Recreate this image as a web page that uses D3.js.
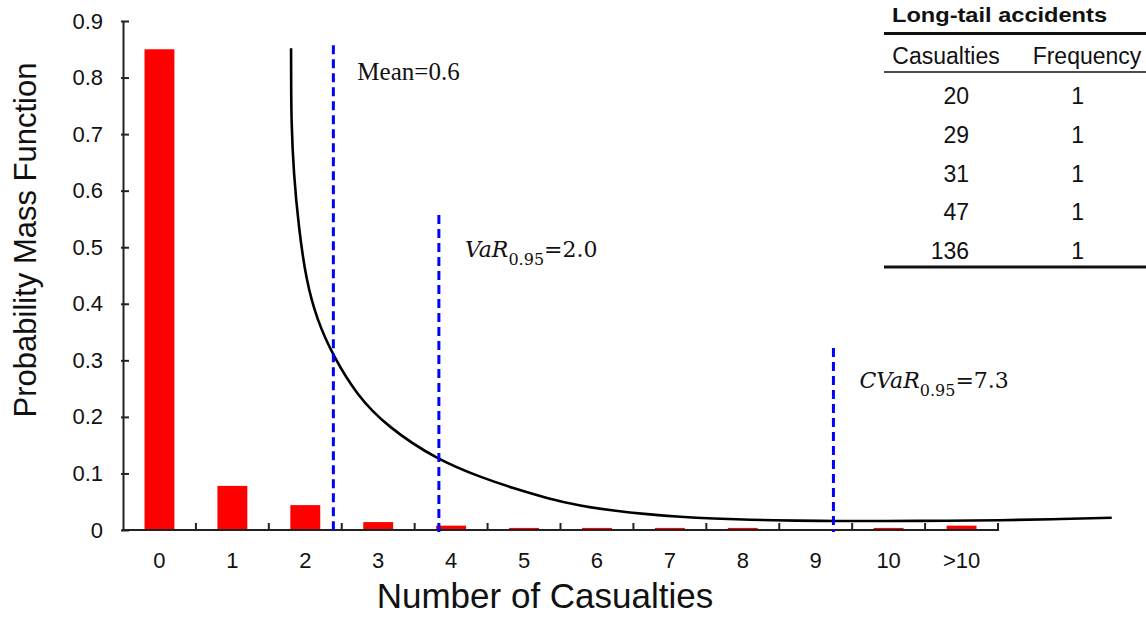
<!DOCTYPE html>
<html>
<head>
<meta charset="utf-8">
<script src="https://cdn.jsdelivr.net/npm/d3@7"></script>
<style>
  body { margin: 0; background: #fff; }
  svg { display: block; }
</style>
</head>
<body>
<script>
// categorie e valori delle barre
const categories = ["0", "1", "2", "3", "4", "5", "6", "7", "8", "9", "10", ">10"];
const pmf = [0.850, 0.078, 0.044, 0.014, 0.0077, 0.0037, 0.0037, 0.0037, 0.0037, 0, 0.0037, 0.0077];

// curva (posizione continua sull'asse x, in unita di categoria)
const curveX = [2.305, 2.306, 2.308, 2.340, 2.409, 2.510, 2.661, 2.889, 3.210, 3.621, 4.307, 4.946, 5.358, 5.816, 6.273, 6.730, 7.188, 7.645, 8.101, 8.560, 9.291, 9.744, 10.39, 11.35, 12.03, 12.72, 13.56, 13.56];
const curveY = [0.852, 0.800, 0.725, 0.631, 0.536, 0.442, 0.371, 0.306, 0.238, 0.183, 0.124, 0.0914, 0.0737, 0.0560, 0.0424, 0.0341, 0.0278, 0.0230, 0.0200, 0.0182, 0.0164, 0.0159, 0.0159, 0.0164, 0.0171, 0.0189, 0.0217, 0.0217];

// linee tratteggiate: posizione x, altezza, etichetta
const markerNames = ["Mean", "VaR", "CVaR"];
const markerX = [2.885, 4.332, 9.743];
const markerTop = [0.857, 0.557, 0.322];
const markerValues = ["0.6", "2.0", "7.3"];

const yTicks = [0, 0.1, 0.2, 0.3, 0.4, 0.5, 0.6, 0.7, 0.8, 0.9];

// tabella
const tableTitle = "Long-tail accidents";
const tableHeaders = ["Casualties", "Frequency"];
const tailCasualties = [20, 29, 31, 47, 136];
const tailFrequency = [1, 1, 1, 1, 1];

const width = 1146;
const height = 617;
const plotLeft = 123, plotRight = 998, plotTop = 21, plotBottom = 530;

const svg = d3.select("body").append("svg")
  .attr("width", width)
  .attr("height", height)
  .style("font-family", "'Liberation Sans', Arial, sans-serif");

const xBand = d3.scaleBand().domain(categories).range([plotLeft, plotRight])
  .paddingInner(0.59).paddingOuter(0.295);
const xu = d3.scaleLinear().domain([0, categories.length]).range([plotLeft, plotRight]);
const y = d3.scaleLinear().domain([0, 0.9]).range([plotBottom, plotTop]);

// barre
svg.append("g").selectAll("rect")
  .data(pmf)
  .join("rect")
  .attr("x", (d, i) => xBand(categories[i]))
  .attr("y", d => y(d))
  .attr("width", xBand.bandwidth())
  .attr("height", d => y(0) - y(d))
  .attr("fill", "#ff0000");

// asse y
const yAxis = svg.append("g").attr("transform", `translate(${plotLeft},0)`)
  .call(d3.axisLeft(y).tickValues(yTicks).tickSize(0).tickPadding(20)
    .tickFormat(d => d === 0 ? "0" : d3.format(".1f")(d)));
yAxis.select(".domain").attr("stroke", "#222").attr("stroke-width", 2);
yAxis.selectAll(".tick text").attr("font-size", 22).attr("fill", "#111")
  .attr("font-family", "'Liberation Sans', Arial, sans-serif");
yAxis.selectAll(".tick").append("line")
  .attr("x1", -2).attr("x2", 6).attr("stroke", "#222").attr("stroke-width", 2);

// asse x
svg.append("line")
  .attr("x1", plotLeft - 1).attr("x2", plotRight + 1)
  .attr("y1", plotBottom).attr("y2", plotBottom)
  .attr("stroke", "#222").attr("stroke-width", 2);
svg.append("g").selectAll("line")
  .data(d3.range(1, categories.length + 1))
  .join("line")
  .attr("x1", d => xu(d)).attr("x2", d => xu(d))
  .attr("y1", plotBottom).attr("y2", plotBottom - 7)
  .attr("stroke", "#222").attr("stroke-width", 2);
svg.append("g").selectAll("text")
  .data(categories)
  .join("text")
  .attr("x", d => xBand(d) + xBand.bandwidth() / 2)
  .attr("y", 568)
  .attr("text-anchor", "middle")
  .attr("font-size", 22)
  .attr("fill", "#111")
  .text(d => d);

// titoli assi
svg.append("text")
  .attr("x", 545).attr("y", 608)
  .attr("text-anchor", "middle")
  .attr("font-size", 35)
  .attr("fill", "#111")
  .text("Number of Casualties");
svg.append("text")
  .attr("transform", "translate(36,240) rotate(-90)")
  .attr("text-anchor", "middle")
  .attr("font-size", 31)
  .attr("fill", "#111")
  .text("Probability Mass Function");

// curva
const curvePts = curveX.map((cx, i) => [cx, curveY[i]]);
svg.append("path")
  .datum(curvePts)
  .attr("fill", "none")
  .attr("stroke", "#000")
  .attr("stroke-width", 2.6)
  .attr("d", d3.line().x(d => xu(d[0])).y(d => y(d[1])).curve(d3.curveBasis));

// linee tratteggiate
svg.append("g").selectAll("line")
  .data(markerX)
  .join("line")
  .attr("x1", d => xu(d)).attr("x2", d => xu(d))
  .attr("y1", (d, i) => y(markerTop[i]))
  .attr("y2", plotBottom + 2)
  .attr("stroke", "#0000ff")
  .attr("stroke-width", 3)
  .attr("stroke-dasharray", "9,5");

// etichette
svg.append("text")
  .attr("x", xu(markerX[0]) + 24).attr("y", y(markerTop[0]) + 35)
  .attr("font-family", "'Liberation Serif', 'Times New Roman', serif")
  .attr("font-size", 25)
  .attr("fill", "#111")
  .text(markerNames[0] + "=" + markerValues[0]);

const labelDy = [0, 42, 40];
[1, 2].forEach(i => {
  const t = svg.append("text")
    .attr("x", xu(markerX[i]) + 26).attr("y", y(markerTop[i]) + labelDy[i])
    .attr("font-family", "'DejaVu Serif', serif")
    .attr("font-size", 22)
    .attr("fill", "#111");
  t.append("tspan").attr("font-style", "italic").text(markerNames[i]);
  t.append("tspan").attr("font-size", 16).attr("dy", 8).text("0.95");
  t.append("tspan").attr("dy", -8).text("=" + markerValues[i]);
});

// tabella
const tbl = svg.append("g");
tbl.append("text")
  .attr("x", 892).attr("y", 22)
  .attr("font-size", 21).attr("font-weight", "bold")
  .attr("textLength", 215).attr("lengthAdjust", "spacingAndGlyphs")
  .attr("fill", "#111")
  .text(tableTitle);
tbl.append("line").attr("x1", 884).attr("x2", 1146).attr("y1", 33.5).attr("y2", 33.5)
  .attr("stroke", "#111").attr("stroke-width", 3);
tbl.append("line").attr("x1", 884).attr("x2", 1146).attr("y1", 72).attr("y2", 72)
  .attr("stroke", "#111").attr("stroke-width", 1.3);
tbl.append("line").attr("x1", 884).attr("x2", 1146).attr("y1", 267).attr("y2", 267)
  .attr("stroke", "#111").attr("stroke-width", 3);
const colX = [946, 1087];
tbl.selectAll("text.hdr")
  .data(tableHeaders)
  .join("text")
  .attr("class", "hdr")
  .attr("x", (d, i) => colX[i]).attr("y", 64)
  .attr("text-anchor", "middle")
  .attr("font-size", 23)
  .attr("fill", "#111")
  .text(d => d);
const rowY = d3.scaleLinear().domain([0, 4]).range([104, 259]);
tbl.selectAll("text.cas")
  .data(tailCasualties)
  .join("text")
  .attr("class", "cas")
  .attr("x", 969).attr("y", (d, i) => rowY(i))
  .attr("text-anchor", "end")
  .attr("font-size", 23)
  .attr("fill", "#111")
  .text(d => d);
tbl.selectAll("text.freq")
  .data(tailFrequency)
  .join("text")
  .attr("class", "freq")
  .attr("x", 1084).attr("y", (d, i) => rowY(i))
  .attr("text-anchor", "end")
  .attr("font-size", 23)
  .attr("fill", "#111")
  .text(d => d);
</script>
</body>
</html>
